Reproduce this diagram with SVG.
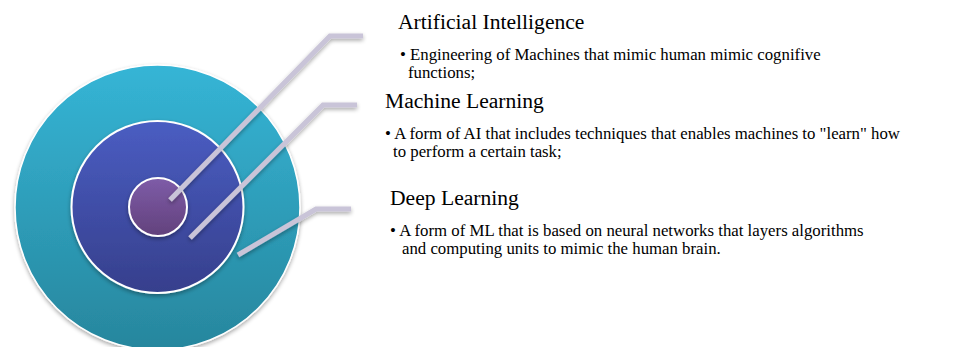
<svg xmlns="http://www.w3.org/2000/svg" width="962" height="347" viewBox="0 0 962 347">
<defs>
<linearGradient id="gOuter" x1="0" y1="0" x2="0" y2="1"><stop offset="0" stop-color="#35b5d6"/><stop offset="1" stop-color="#27869d"/></linearGradient>
<linearGradient id="gMid" x1="0" y1="0" x2="0" y2="1"><stop offset="0" stop-color="#4a5dc2"/><stop offset="1" stop-color="#363f8c"/></linearGradient>
<linearGradient id="gIn" x1="0" y1="0" x2="0" y2="1"><stop offset="0" stop-color="#7e5ca8"/><stop offset="1" stop-color="#62417c"/></linearGradient>
<filter id="sh" x="-20%" y="-20%" width="140%" height="140%"><feGaussianBlur in="SourceAlpha" stdDeviation="2"/><feOffset dx="0" dy="2"/><feComponentTransfer><feFuncA type="linear" slope="0.35"/></feComponentTransfer><feMerge><feMergeNode/><feMergeNode in="SourceGraphic"/></feMerge></filter>
</defs>
<style>
.title{font-family:"Liberation Serif","Times New Roman",serif;font-size:21.6px;fill:#000}
.body{font-family:"Liberation Serif","Times New Roman",serif;font-size:16.8px;fill:#000}
.conn{fill:none;stroke:#c9c4d8;stroke-width:5;stroke-linecap:butt;stroke-linejoin:miter}
</style>
<g id="outer" filter="url(#sh)"><circle cx="157.5" cy="207.5" r="142.5" fill="url(#gOuter)" stroke="#ffffff" stroke-width="1.5"/></g>
<g id="middle" filter="url(#sh)"><circle cx="157.5" cy="207" r="86" fill="url(#gMid)" stroke="#ffffff" stroke-width="2"/></g>
<g id="inner" filter="url(#sh)"><circle cx="158" cy="207" r="29" fill="url(#gIn)" stroke="#ffffff" stroke-width="2"/></g>
<g id="connectors" filter="url(#sh)">
<polyline class="conn" points="170,200 330,36 363,36"/>
<polyline class="conn" points="190,238 323,105 357,105"/>
<polyline class="conn" points="238,255 316,209 351,209"/>
</g>
<g id="ai">
<text class="title" x="398" y="29">Artificial Intelligence</text>
<text class="body" x="400" y="60">• Engineering of Machines that mimic human mimic cognifive</text>
<text class="body" x="408" y="78">functions;</text>
</g>
<g id="ml">
<text class="title" x="385" y="108">Machine Learning</text>
<text class="body" x="385" y="139">• A form of AI that includes techniques that enables machines to "learn" how</text>
<text class="body" x="393" y="157">to perform a certain task;</text>
</g>
<g id="dl">
<text class="title" x="390" y="205">Deep Learning</text>
<text class="body" x="390" y="236">• A form of ML that is based on neural networks that layers algorithms</text>
<text class="body" x="402" y="254">and computing units to mimic the human brain.</text>
</g>
</svg>
